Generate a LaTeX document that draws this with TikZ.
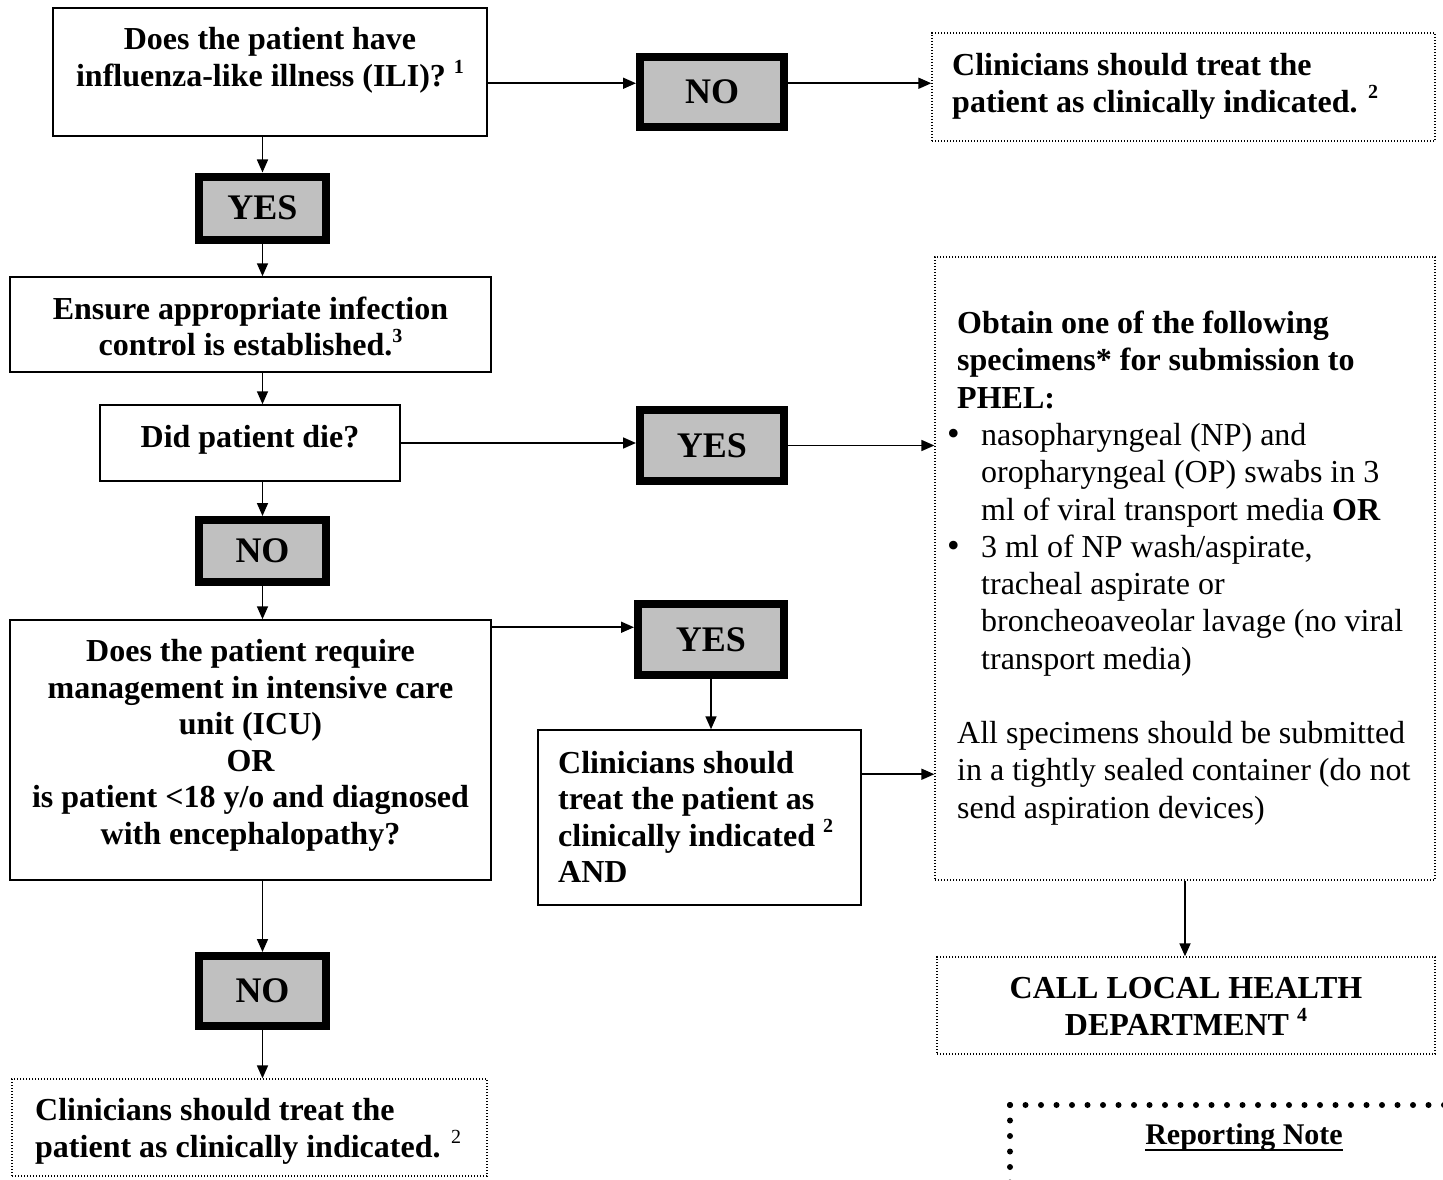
\documentclass[tikz,border=0pt]{standalone}
\usepackage{fontspec}
\setmainfont{Liberation Serif}
\usetikzlibrary{arrows.meta,calc}
\definecolor{ansgrey}{RGB}{192,192,192}
\newcommand{\supnum}[1]{\raisebox{0.42em}{\fontsize{20}{20}\selectfont #1}}
\begin{document}
\begin{tikzpicture}[x=1pt,y=-1pt,
  plainbox/.style={draw, line width=1.5pt, inner sep=0pt},
  dotbox/.style={draw, line width=1.3pt, dash pattern=on 1.3pt off 1.7pt, inner sep=0pt},
  answer/.style={draw, line width=8pt, fill=ansgrey, inner sep=0pt,
    font=\fontsize{36}{40}\selectfont\bfseries},
  txt/.style={inner sep=0pt, font=\fontsize{32}{36.5}\selectfont\bfseries},
  rtxt/.style={inner sep=0pt, font=\fontsize{32}{37.3}\selectfont},
  arr/.style={line width=1.7pt, -{Triangle[length=13pt,width=11pt]}},
  bigdots/.style={line width=6pt, line cap=round, dash pattern=on 0pt off 15.5pt},
]
\useasboundingbox (0,0) rectangle (1443,1180);

% ---------- boxes ----------
\node[plainbox, minimum width=434pt, minimum height=128pt] (A) at (270,72) {};
\node[txt, align=center] (At) at (270,60.5) {Does the patient have\\influenza-like illness (ILI)? \supnum{1}};

\node[answer, minimum width=144pt, minimum height=70pt] (NO1) at (712,92) {NO};

\node[dotbox, minimum width=503pt, minimum height=108pt] (B) at (1183.5,87) {};
\node[txt, align=left, anchor=west] (Bt) at (952,86.5) {Clinicians should treat the\\patient as clinically indicated. \supnum{2}};

\node[answer, minimum width=127pt, minimum height=63pt] (YES1) at (262.5,208) {YES};

\node[plainbox, minimum width=481pt, minimum height=95pt] (C) at (250.5,324.5) {};
\node[txt, align=center] (Ct) at (250.5,326.5) {Ensure appropriate infection\\control is established.\supnum{3}};

\node[plainbox, minimum width=300pt, minimum height=76pt] (D) at (250,443) {};
\node[txt] (Dt) at (250,440) {Did patient die?};

\node[answer, minimum width=144pt, minimum height=71pt] (YES2) at (712,445.5) {YES};

\node[dotbox, minimum width=500pt, minimum height=623pt] (E) at (1185,568.5) {};
\node[rtxt, align=left, anchor=west] (Et) at (957,568) {%
\textbf{Obtain one of the following}\\
\textbf{specimens* for submission to}\\
\textbf{PHEL:}\\
\hspace*{-10pt}\makebox[34pt][l]{\fontsize{36}{36}\selectfont •}nasopharyngeal (NP) and\\
\hspace*{24pt}oropharyngeal (OP) swabs in 3\\
\hspace*{24pt}ml of viral transport media \textbf{OR}\\
\hspace*{-10pt}\makebox[34pt][l]{\fontsize{36}{36}\selectfont •}3 ml of NP wash/aspirate,\\
\hspace*{24pt}tracheal aspirate or\\
\hspace*{24pt}broncheoaveolar lavage (no viral\\
\hspace*{24pt}transport media)\\[37pt]
All specimens should be submitted\\
in a tightly sealed container (do not\\
send aspiration devices)};

\node[answer, minimum width=127pt, minimum height=62pt] (NO2) at (262.5,551) {NO};

\node[plainbox, minimum width=481pt, minimum height=260pt] (F) at (250.5,750) {};
\node[txt, align=center] (Ft) at (250.5,745.5) {Does the patient require\\management in intensive care\\unit (ICU)\\OR\\is patient <18 y/o and diagnosed\\with encephalopathy?};

\node[answer, minimum width=146pt, minimum height=71pt] (YES3) at (711,639.5) {YES};

\node[plainbox, minimum width=323pt, minimum height=175pt] (G) at (699.5,817.5) {};
\node[txt, align=left, anchor=west] (Gt) at (558,817) {Clinicians should\\treat the patient as\\clinically indicated \supnum{2}\\AND};

\node[dotbox, minimum width=498pt, minimum height=97pt] (H) at (1186,1005.5) {};
\node[txt, align=center] (Ht) at (1186,1006.5) {CALL LOCAL HEALTH\\DEPARTMENT \supnum{4}};

\node[answer, minimum width=127pt, minimum height=70pt] (NO3) at (262.5,991) {NO};

\node[dotbox, minimum width=475pt, minimum height=97pt] (I) at (249.5,1127.5) {};
\node[txt, align=left, anchor=west] (It) at (35,1131.5) {Clinicians should treat the\\patient as clinically indicated. {\mdseries\supnum{2}}};

% ---------- reporting note (partial box) ----------
\coordinate (RNc) at (1010,1105);
\coordinate (RNr) at (1450,1105);
\coordinate (RNd) at (1010,1185);
\draw[bigdots] (RNc) -- (RNr);
\draw[bigdots] (RNc) -- (RNd);
\node[inner sep=0pt, font=\fontsize{30}{34}\selectfont\bfseries] (RN) at (1244,1137) {Reporting Note};
\draw[line width=2.5pt] ($(RN.base west)+(0,6)$) -- ($(RN.base east)+(0,6)$);

% ---------- connectors ----------
\coordinate (a1) at ($(A.north east)+(0,76)$);
\draw[arr] (a1) -- (a1 -| NO1.west);
\draw[arr] (NO1.east |- a1) -- (a1 -| B.west);
\draw[arr] (YES1.north |- A.south) -- (YES1.north);
\draw[arr] (YES1.south) -- (YES1.south |- C.north);
\draw[arr] (NO2.north |- C.south) -- (NO2.north |- D.north);
\draw[arr] (NO2.north |- D.south) -- (NO2.north);
\draw[arr] (D.east) -- (D.east -| YES2.west);
\draw[arr] (YES2.east) -- (YES2.east -| E.west);
\draw[arr] (NO2.south) -- (NO2.south |- F.north);
\coordinate (f1) at ($(F.north east)+(0,8)$);
\draw[arr] (f1) -- (f1 -| YES3.west);
\draw[arr] (YES3.south) -- (YES3.south |- G.north);
\coordinate (g1) at ($(G.north east)+(0,45)$);
\draw[arr] (g1) -- (g1 -| E.west);
\draw[arr] (E.south) -- (E.south |- H.north);
\draw[arr] (NO3.north |- F.south) -- (NO3.north);
\draw[arr] (NO3.south) -- (NO3.south |- I.north);
\end{tikzpicture}
\end{document}
